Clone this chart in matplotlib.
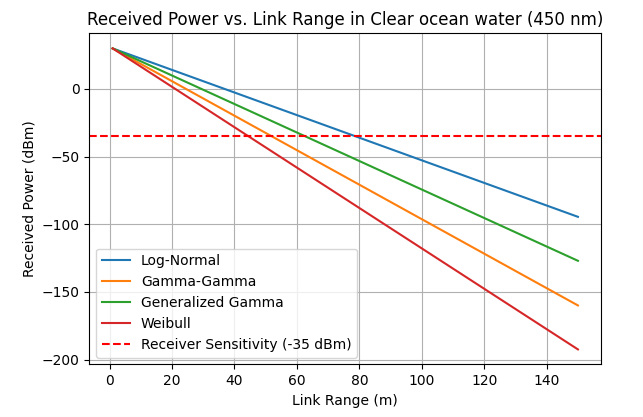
import numpy as np
import matplotlib.pyplot as plt

# link range endpoints (m) and received power (dBm)
link_range = [1, 150]
log_normal = [30, -94.5]
gamma_gamma = [30, -160]
gen_gamma = [30, -127]
weibull = [30, -192.5]
sensitivity = -35

fig, ax = plt.subplots(figsize=(6.43, 4.17), dpi=100)
ax.plot(link_range, log_normal, label="Log-Normal")
ax.plot(link_range, gamma_gamma, label="Gamma-Gamma")
ax.plot(link_range, gen_gamma, label="Generalized Gamma")
ax.plot(link_range, weibull, label="Weibull")
ax.axhline(sensitivity, color="r", linestyle="--",
           label="Receiver Sensitivity (-35 dBm)")
ax.set_xlabel("Link Range (m)")
ax.set_ylabel("Received Power (dBm)")
ax.set_title("Received Power vs. Link Range in Clear ocean water (450 nm)")
ax.grid(True)
ax.legend(loc="lower left")
fig.subplots_adjust(left=0.139, right=0.935, top=0.920, bottom=0.126)
fig.savefig("out.png")
